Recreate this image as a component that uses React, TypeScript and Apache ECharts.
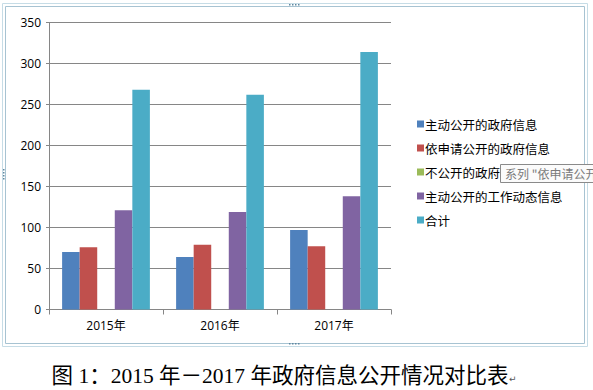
import React, { useEffect, useRef } from "react";
import * as echarts from "echarts";

const categories = ["2015年", "2016年", "2017年"];
const seriesNames = ["主动公开的政府信息", "依申请公开的政府信息", "不公开的政府信息", "主动公开的工作动态信息", "合计"];
const activeInfo = [70, 64, 97];
const requestInfo = [76, 79, 77];
const notPublic = [0, 0, 0];
const workNews = [121, 119, 138];
const totals = [268, 262, 314];
const colors = ["#4F81BD", "#C0504D", "#9BBB59", "#8064A2", "#4BACC6"];
const yTicks = { min: 0, max: 350, interval: 50 };
const caption = "图 1：2015 年－2017 年政府信息公开情况对比表";

function dots(cx: number, cy: number, horizontal: boolean) {
  const out: any[] = [];
  for (let i = 0; i < 4; i++) {
    out.push({
      type: "rect",
      z: 100,
      silent: true,
      shape: horizontal ? { x: cx - 6 + i * 3, y: cy, width: 1.5, height: 1.5 } : { x: cx, y: cy - 6 + i * 3, width: 1.5, height: 1.5 },
      style: { fill: "#5F87A0" },
    });
  }
  return out;
}

export default function App() {
  const ref = useRef<HTMLDivElement>(null);
  useEffect(() => {
    const chart = echarts.init(ref.current!, null, { renderer: "svg" });
    const data = [activeInfo, requestInfo, notPublic, workNews, totals];
    const axisFont = { fontFamily: "'Open Sans', 'Noto Sans CJK SC', sans-serif", fontSize: 12, color: "#000" };
    chart.setOption({
      animation: false,
      backgroundColor: "#fff",
      color: colors,
      grid: { left: 49, right: 202, top: 22.5, bottom: 80.5 },
      xAxis: {
        type: "category",
        data: categories,
        axisLine: { lineStyle: { color: "#868686" } },
        axisTick: { show: true, length: 5, lineStyle: { color: "#868686" } },
        axisLabel: { ...axisFont, margin: 10 },
      },
      yAxis: {
        type: "value",
        min: yTicks.min,
        max: yTicks.max,
        interval: yTicks.interval,
        axisLine: { show: true, lineStyle: { color: "#868686" } },
        axisTick: { show: true, length: 3, lineStyle: { color: "#868686" } },
        splitLine: { lineStyle: { color: "#868686" } },
        axisLabel: { ...axisFont, margin: 8 },
      },
      legend: {
        orient: "vertical",
        left: 412,
        top: 112,
        itemWidth: 7,
        itemHeight: 7,
        itemGap: 10,
        icon: "rect",
        textStyle: { fontFamily: "'Noto Sans CJK SC', sans-serif", fontSize: 12.5, color: "#000", lineHeight: 14, padding: [0, 0, 0, -4] },
        data: seriesNames,
      },
      series: seriesNames.map((name, i) => ({
        name,
        type: "bar",
        data: data[i],
        barGap: "0%",
        barCategoryGap: "23%",
      })),
      graphic: [
        { type: "rect", z: 100, shape: { x: 2.5, y: 3.5, width: 585, height: 343 }, style: { fill: "none", stroke: "#C6DCE6", lineWidth: 1 }, silent: true },
        { type: "rect", z: 100, shape: { x: 5.5, y: 6.5, width: 579, height: 337 }, style: { fill: "none", stroke: "#A7C3D2", lineWidth: 1 }, silent: true },
        ...dots(295, 4, true),
        ...dots(295, 343, true),
        ...dots(3, 175, false),
        ...dots(586, 175, false),
        {
          type: "rect",
          z: 100,
          shape: { x: 500.5, y: 164.5, width: 100, height: 18 },
          style: { fill: "#FBFBFB", stroke: "#8A8A8A", lineWidth: 1 },
          silent: true,
        },
        {
          type: "text",
          z: 101,
          x: 505,
          y: 167,
          style: { text: "系列 \"依申请公开", fontFamily: "'Noto Sans CJK SC', sans-serif", fontSize: 12, fill: "#7A7A7A" },
          silent: true,
        },
        {
          type: "text",
          z: 100,
          x: 280,
          y: 376,
          style: {
            text: caption,
            fontFamily: "'Liberation Serif', 'Noto Sans CJK SC', serif",
            fontSize: 21.5,
            fill: "#000",
            align: "center",
            verticalAlign: "middle",
          },
          silent: true,
        },
        {
          type: "text",
          z: 100,
          x: 509,
          y: 379,
          style: { text: "↵", fontFamily: "'DejaVu Sans', sans-serif", fontSize: 9, fill: "#555", verticalAlign: "middle" },
          silent: true,
        },
      ],
    });
    return () => chart.dispose();
  }, []);
  return <div ref={ref} style={{ position: "fixed", left: 0, top: 0, width: 593, height: 390 }} />;
}
